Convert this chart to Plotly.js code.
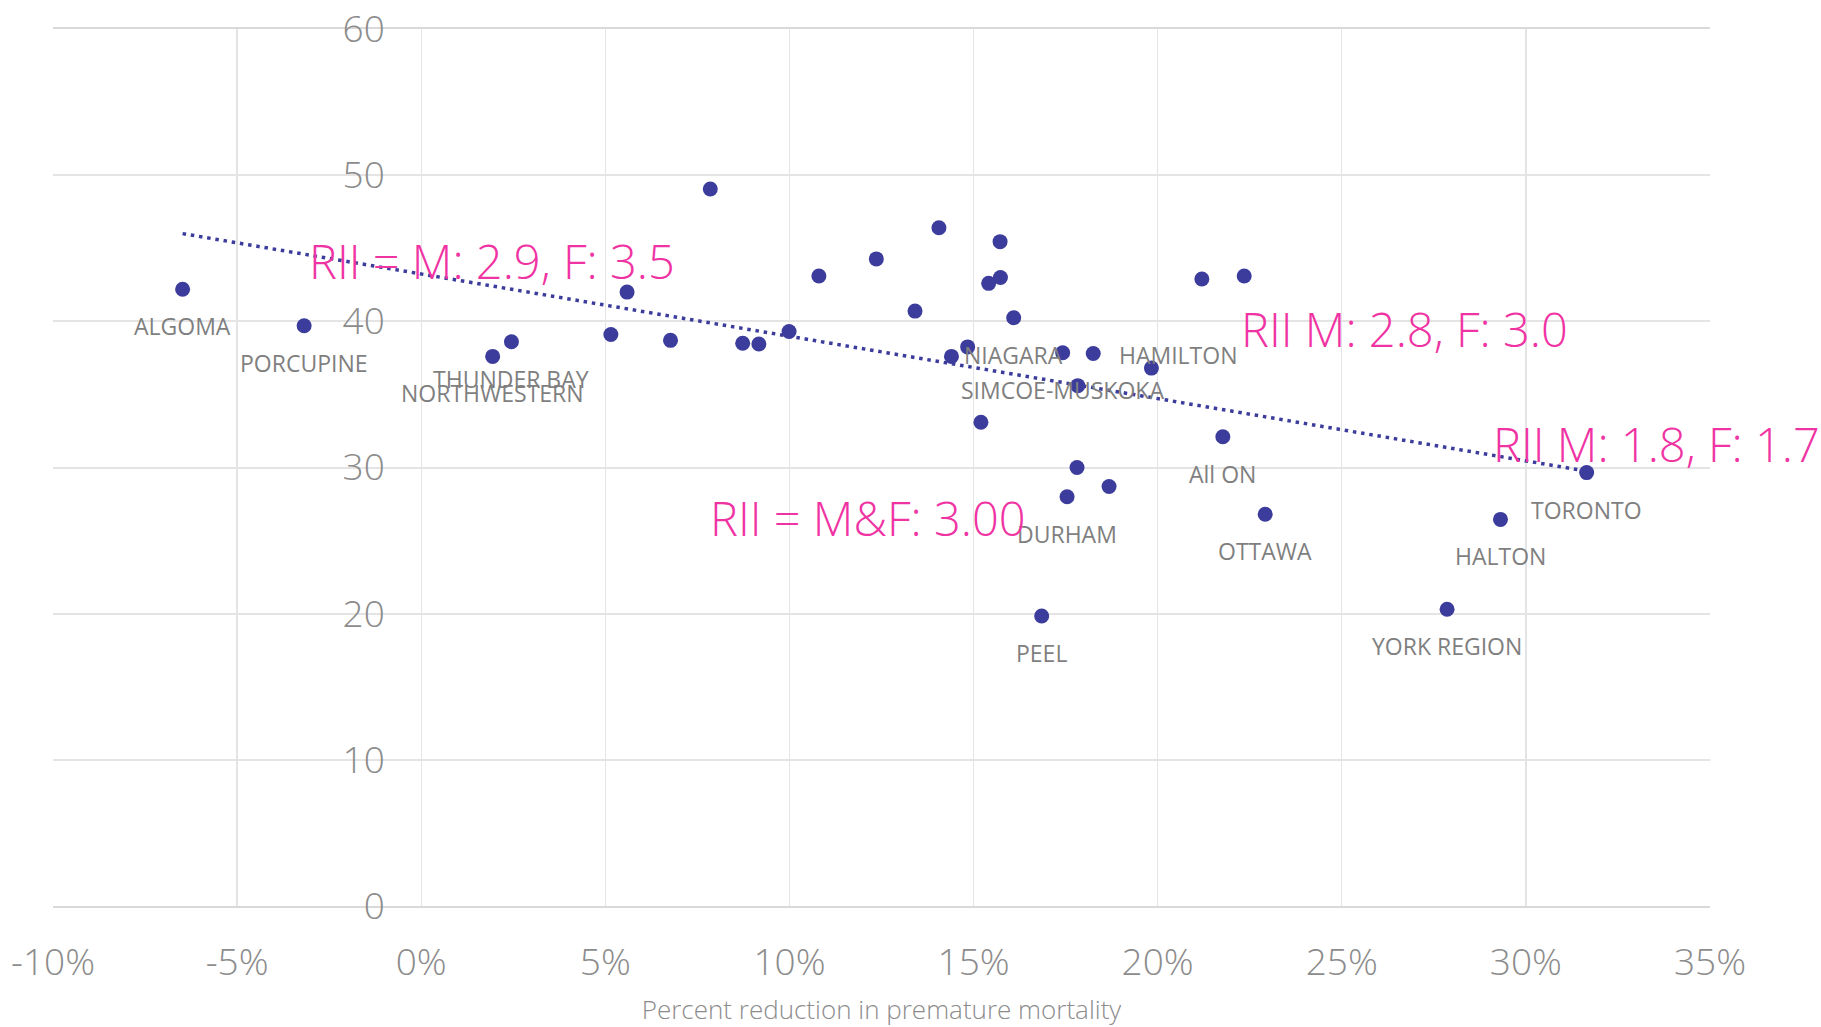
<!DOCTYPE html>
<html><head><meta charset="utf-8">
<script src="https://cdn.plot.ly/plotly-3.0.1.min.js"></script>
<style>html,body{margin:0;padding:0;background:#fff}#chart{width:1821px;height:1027px}</style>
</head><body><div id="chart"></div>
<script>
// Percent reduction in premature mortality (x, in %) and value (y)
const pctReduction = [
  -6.48, -3.18, 1.94, 2.45, 5.15, 5.59, 6.77, 7.85, 8.73, 9.17,
  9.99, 10.80, 12.36, 13.41, 14.06, 14.40, 14.84, 15.20, 15.41, 15.72,
  15.73, 16.09, 16.85, 17.42, 17.83, 17.81, 17.54, 18.68, 18.25, 19.83,
  21.20, 22.35, 21.77, 22.92, 27.86, 29.31, 31.65
];
const prematureValue = [
  42.2, 39.7, 37.6, 38.6, 39.1, 42.0, 38.7, 49.05, 38.5, 38.45,
  39.3, 43.1, 44.27, 40.7, 46.4, 37.6, 38.25, 33.1, 42.6, 45.45,
  43.0, 40.25, 19.84, 37.85, 35.6, 30.0, 28.0, 28.7, 37.8, 36.8,
  42.9, 43.1, 32.1, 26.8, 20.3, 26.45, 29.65
];
const regionName = [
  'ALGOMA', 'PORCUPINE', 'NORTHWESTERN', 'THUNDER BAY', '', '', '', '', '', '',
  '', '', '', '', '', '', '', '', '', '',
  '', 'NIAGARA', 'PEEL', 'SIMCOE-MUSKOKA', '', '', 'DURHAM', '', 'HAMILTON', '',
  '', '', 'All ON', 'OTTAWA', 'YORK REGION', 'HALTON', 'TORONTO'
];
// labels placed to the right of their point (others sit below)
const labelsOnRight = ['HAMILTON'];

// Linear trendline end points
const trendX = [-6.48, 31.65];
const trendY = [46.0, 29.75];

// RII annotations
const riiText = ['RII = M: 2.9, F: 3.5', 'RII = M&F: 3.00', 'RII M: 2.8, F: 3.0', 'RII M: 1.8, F: 1.7'];
const riiX = [1.93, 12.13, 26.69, 33.54];
const riiY = [44.1, 26.55, 39.49, 31.58];

const xTickVals = [-10, -5, 0, 5, 10, 15, 20, 25, 30, 35];
const xTickText = ['-10%', '-5%', '0%', '5%', '10%', '15%', '20%', '25%', '30%', '35%'];
const yTickVals = [0, 10, 20, 30, 40, 50, 60];
const yTickText = ['0', '10', '20', '30', '40', '50', '60'];

const xTitle = 'Percent reduction in premature mortality';

const BLUE = '#3c3c9c';
const PINK = '#f033a3';
const FONT = '"Open Sans", "Segoe UI", sans-serif';

const traces = [
  {
    x: trendX, y: trendY, type: 'scatter', mode: 'lines',
    line: {color: BLUE, width: 3.5, dash: '3.5px,4.8px'},
    hoverinfo: 'skip', showlegend: false
  },
  {
    x: pctReduction, y: prematureValue, type: 'scatter', mode: 'markers',
    marker: {color: BLUE, size: 15, line: {width: 0}},
    showlegend: false, cliponaxis: false
  }
];

const annotations = [];
regionName.forEach((name, i) => {
  if (!name) return;
  const right = labelsOnRight.includes(name);
  annotations.push({
    x: pctReduction[i], y: prematureValue[i], xref: 'x', yref: 'y',
    text: name, showarrow: false,
    xanchor: right ? 'left' : 'center', yanchor: 'middle',
    xshift: right ? 24 : 0, yshift: right ? -2 : -37,
    font: {family: FONT, size: 23, color: '#7f7f7f'}
  });
});
riiText.forEach((t, i) => {
  annotations.push({
    x: riiX[i], y: riiY[i], xref: 'x', yref: 'y', text: t, showarrow: false,
    xanchor: 'center', yanchor: 'middle',
    font: {family: FONT, size: 47, color: PINK, weight: 300}
  });
});

const xRange = [-10, 35];
const layout = {
  width: 1821, height: 1027,
  margin: {l: 53, r: 111, t: 29, b: 121, pad: 0},
  paper_bgcolor: '#ffffff', plot_bgcolor: '#ffffff',
  font: {family: FONT, color: '#8c8c8c'},
  showlegend: false,
  xaxis: {
    range: xRange, tickmode: 'array', tickvals: xTickVals, ticktext: xTickText,
    showgrid: true, gridcolor: '#e4e4e4', gridwidth: 1.4, zeroline: false,
    showline: true, mirror: true, linecolor: '#d9d9d9', linewidth: 2,
    ticks: 'outside', ticklen: 23, tickcolor: 'rgba(0,0,0,0)',
    tickfont: {family: FONT, size: 37, color: '#8c8c8c', weight: 300},
    title: {text: xTitle, font: {family: FONT, size: 26, color: '#8c8c8c', weight: 300}, standoff: 21},
    automargin: false, fixedrange: true
  },
  yaxis: {
    range: [0, 60], tickmode: 'array', tickvals: yTickVals, ticktext: yTickText,
    anchor: 'free', position: (0 - xRange[0]) / (xRange[1] - xRange[0]),
    showgrid: true, gridcolor: '#e4e4e4', gridwidth: 2, zeroline: false,
    showline: false,
    ticks: 'outside', ticklen: 29, tickcolor: 'rgba(0,0,0,0)',
    tickfont: {family: FONT, size: 37, color: '#8c8c8c', weight: 300},
    automargin: false, fixedrange: true
  },
  annotations: annotations
};

Plotly.newPlot('chart', traces, layout, {displayModeBar: false, staticPlot: true});
</script>
</body></html>
